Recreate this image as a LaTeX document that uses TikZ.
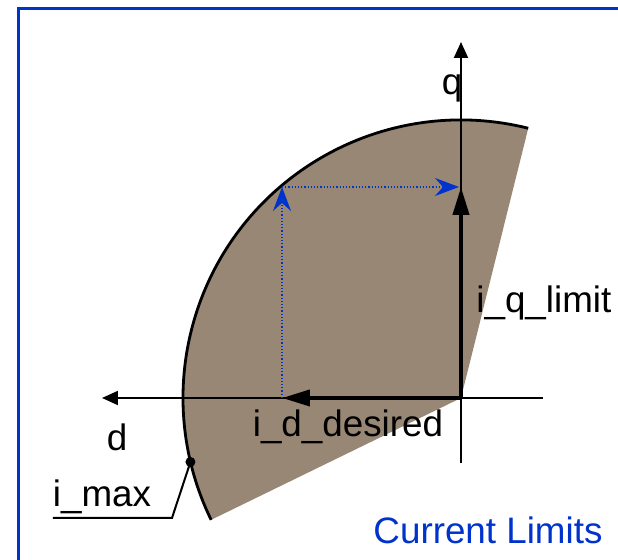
\documentclass[tikz,border=0pt]{standalone}
\usepackage{fontspec}
\setmainfont{Liberation Sans}
\usetikzlibrary{positioning, arrows.meta}
\definecolor{sectorbrown}{RGB}{152,135,117}
\definecolor{frameblue}{RGB}{0,51,204}

\begin{document}
\begin{tikzpicture}[x=0.5pt, y=0.5pt, font=\fontsize{18.4}{20}\selectfont,
    axis/.style={line width=1pt, -{Triangle[length=8pt, width=7pt]}},
    vect/.style={line width=2pt, -{Triangle[length=14pt, width=8pt]}},
    proj/.style={frameblue, densely dotted, line width=0.6pt, -{Stealth[length=12pt, width=9pt, inset=4pt]}}]

    \useasboundingbox (-461,-162) rectangle (157,398);
    \draw[frameblue, line width=1.5pt] (-442,-170) -- (-442,389) -- (170,389);

    % current limit sector
    \fill[sectorbrown] (0,0) -- (76:278) arc (76:206:278) -- cycle;
    \draw[line width=1.4pt] (76:278) arc (76:206:278);

    \coordinate (O) at (0,0);
    \coordinate (dend) at (82,0);
    \coordinate (dtip) at (-359,0);
    \coordinate (qend) at (0,-65);
    \coordinate (qtip) at (0,356);
    \coordinate (iq) at (0,211);
    \coordinate (id) at (-179,0);
    \coordinate (corner) at (-179,211);

    \draw[axis] (dend) -- (dtip);
    \draw[axis] (qend) -- (qtip);
    \draw[vect] (O) -- (iq);
    \draw[vect] (O) -- (id);
    \draw[proj] (id) -- (corner);
    \draw[proj] (corner) -- ([xshift=-1]iq);

    \node (qlabel) at (-9,310) {q};
    \node (dlabel) at (-344,-39) {d};
    \node (idlabel) at (-113,-29) {i\_d\_desired};
    \node[anchor=west, inner sep=0pt] (iqlabel) at (15,95) {i\_q\_limit};
    \node (imaxlabel) at (-359,-99) {i\_max};
    \node[frameblue] (title) at (27,-132) {Current Limits};

    % i_max leader
    \fill (193.3:278) circle (5);
    \coordinate (imax) at (193.3:278);
    \coordinate (bend) at (-289,-120);
    \coordinate (lead) at (-408,-120);
    \draw[line width=1pt] (imax) -- (bend) -- (lead);

\end{tikzpicture}
\end{document}
